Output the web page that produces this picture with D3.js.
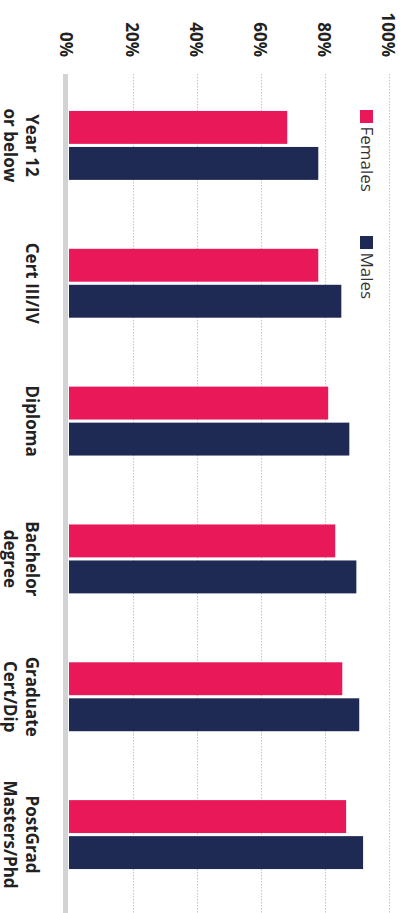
<!DOCTYPE html>
<html>
<head>
<meta charset="utf-8">
<script src="https://cdn.jsdelivr.net/npm/d3@7"></script>
<style>
  html, body { margin: 0; padding: 0; background: #fff; }
  svg { display: block; }
</style>
</head>
<body>
<div id="chart"></div>
<script>
// ---- data ----
const categories = ["Year 12 or below", "Cert III/IV", "Diploma", "Bachelor degree", "Graduate Cert/Dip", "PostGrad Masters/Phd"];
const categoryLines = [["Year 12", "or below"], ["Cert III/IV"], ["Diploma"], ["Bachelor", "degree"], ["Graduate", "Cert/Dip"], ["PostGrad", "Masters/Phd"]];
const seriesNames = ["Females", "Males"];
const females = [68.2, 77.9, 81.0, 83.2, 85.4, 86.6];
const males = [77.9, 85.1, 87.6, 89.8, 90.7, 91.9];
const tickValues = [0, 20, 40, 60, 80, 100];
const tickLabels = ["0%", "20%", "40%", "60%", "80%", "100%"];
const colors = ["#E91959", "#1E2A54"];

const W = 404, H = 913;
const svg = d3.select("#chart").append("svg").attr("width", W).attr("height", H);

const x = d3.scaleLinear().domain([0, 100]).range([69, 389]);
const y = d3.scaleBand().domain(categories).range([76.5, 903.5]).paddingInner(0.5).paddingOuter(0.25);
const ySub = d3.scaleBand().domain(seriesNames).range([0, y.bandwidth()]).paddingInner(0.086);
const color = d3.scaleOrdinal().domain(seriesNames).range(colors);

const plotTop = 74, plotBottom = H;

// gridlines
svg.append("g").selectAll("line").data(tickValues.slice(1)).join("line")
  .attr("x1", d => Math.round(x(d)) + 0.5).attr("x2", d => Math.round(x(d)) + 0.5)
  .attr("y1", plotTop).attr("y2", plotBottom)
  .attr("stroke", "#c4c4c4").attr("stroke-width", 1).attr("stroke-dasharray", "1.5,1.5");

// baseline
svg.append("rect")
  .attr("x", x(0) - 6).attr("y", plotTop).attr("width", 5).attr("height", plotBottom - plotTop)
  .attr("fill", "#d2d3d5");

// tick labels (rotated)
svg.append("g").selectAll("text").data(tickValues).join("text")
  .attr("transform", d => `translate(${x(d) - (d === 0 ? 3 : 1)},57) rotate(90)`)
  .attr("text-anchor", "end").attr("dy", "0.35em")
  .style("font-family", "'Open Sans', sans-serif").style("font-weight", 700).style("font-size", "17px")
  .attr("fill", "#222")
  .text((d, i) => tickLabels[i]);

// bars
const rows = categories.map((c, i) => ({ cat: c, values: [females[i], males[i]] }));
const groups = svg.append("g").selectAll("g").data(rows).join("g")
  .attr("transform", d => `translate(0,${y(d.cat)})`);
groups.selectAll("rect").data(d => d.values.map((v, j) => ({ s: seriesNames[j], v }))).join("rect")
  .attr("x", x(0)).attr("y", d => ySub(d.s))
  .attr("width", d => x(d.v) - x(0)).attr("height", ySub.bandwidth())
  .attr("fill", d => color(d.s));

// category labels (rotated)
const labels = svg.append("g").selectAll("text").data(categories).join("text")
  .attr("transform", d => `translate(25.5,${y(d) + y.bandwidth() / 2}) rotate(90)`)
  .attr("text-anchor", "middle")
  .style("font-family", "'Open Sans', sans-serif").style("font-weight", 700).style("font-size", "17px")
  .attr("fill", "#222");
labels.selectAll("tspan").data((d, i) => categoryLines[i]).join("tspan")
  .attr("x", 0).attr("dy", (d, j) => j === 0 ? 0 : "1.25em")
  .text(d => d);

// legend
const legendY = [110, 236];
const leg = svg.append("g").selectAll("g").data(seriesNames).join("g")
  .attr("transform", (d, i) => `translate(360,${legendY[i]})`);
leg.append("rect").attr("x", 0).attr("y", 0).attr("width", 13).attr("height", 13).attr("fill", d => color(d));
leg.append("text")
  .attr("transform", "translate(1,16.5) rotate(90)")
  .attr("text-anchor", "start")
  .style("font-family", "'Open Sans', sans-serif").style("font-weight", 400).style("font-size", "17px")
  .attr("fill", "#333")
  .text(d => d);
</script>
</body>
</html>
